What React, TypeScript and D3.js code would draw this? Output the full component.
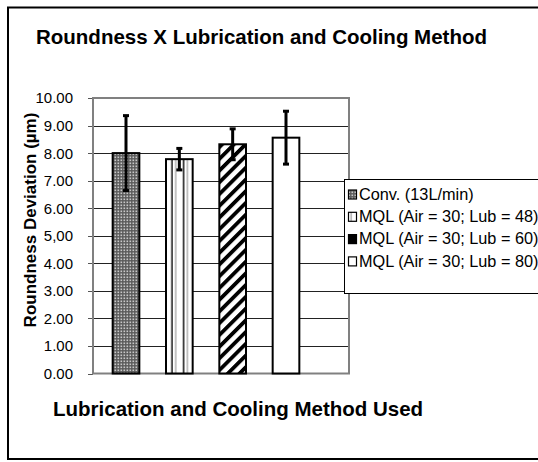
import { useEffect, useRef } from "react";
import * as d3 from "d3";

const methods = [
  "Conv. (13L/min)",
  "MQL (Air = 30; Lub = 48)",
  "MQL (Air = 30; Lub = 60)",
  "MQL (Air = 30; Lub = 80)",
];
const roundness = [8.0, 7.78, 8.32, 8.56];
const errors = [1.36, 0.39, 0.56, 0.96];
const yTicks = [0, 1, 2, 3, 4, 5, 6, 7, 8, 9, 10];
const yTickLabels = ["0.00", "1.00", "2.00", "3.00", "4.00", "5,00", "6.00", "7.00", "8.00", "9.00", "10.00"];
const fills = ["url(#pat-check)", "url(#pat-vert)", "url(#pat-diag)", "#ffffff"];

const App = () => {
  const svgRef = useRef<SVGSVGElement>(null);

  useEffect(() => {
    const w = 538;
    const h = 462;
    const svg = d3.select(svgRef.current).attr("width", w).attr("height", h);
    svg.selectAll("*").remove();
    const font = "Liberation Sans, Arial, sans-serif";

    // patterns
    const defs = svg.append("defs");
    const chk = defs.append("pattern").attr("id", "pat-check").attr("patternUnits", "userSpaceOnUse")
      .attr("width", 3).attr("height", 3);
    chk.append("rect").attr("width", 3).attr("height", 3).attr("fill", "#5a5a5a");
    chk.append("rect").attr("x", 0.5).attr("y", 0.5).attr("width", 1.6).attr("height", 1.6).attr("fill", "#c8c8c8");

    const vert = defs.append("pattern").attr("id", "pat-vert").attr("patternUnits", "userSpaceOnUse")
      .attr("width", 11.7).attr("height", 10).attr("x", 161);
    vert.append("rect").attr("width", 11.7).attr("height", 10).attr("fill", "#fff");
    vert.append("rect").attr("x", 10.3).attr("width", 1.4).attr("height", 10).attr("fill", "#000");
    vert.append("rect").attr("x", 2.5).attr("width", 1).attr("height", 10).attr("fill", "#888");

    const diag = defs.append("pattern").attr("id", "pat-diag").attr("patternUnits", "userSpaceOnUse")
      .attr("width", 8.3).attr("height", 10).attr("patternTransform", "rotate(45)");
    diag.append("rect").attr("width", 8.3).attr("height", 10).attr("fill", "#fff");
    diag.append("rect").attr("width", 3.8).attr("height", 10).attr("fill", "#000");

    // outer frame
    svg.append("rect").attr("x", 8).attr("y", 7.5).attr("width", 600).attr("height", 451.5)
      .attr("fill", "#fff").attr("stroke", "#000").attr("stroke-width", 2);

    const plot = { left: 93, right: 349, top: 98, bottom: 373.5 };
    const y = d3.scaleLinear().domain([0, 10]).range([plot.bottom, plot.top]);
    const x = d3.scaleBand().domain(methods).range([86, 326]).padding(0.5);

    // gridlines
    svg.append("g").selectAll("line").data(yTicks.slice(1, -1)).join("line")
      .attr("x1", plot.left).attr("x2", plot.right)
      .attr("y1", (d) => Math.round(y(d)) + 0.5).attr("y2", (d) => Math.round(y(d)) + 0.5)
      .attr("stroke", "#222").attr("stroke-width", 1);

    // y axis ticks
    svg.append("g").selectAll("line").data(yTicks).join("line")
      .attr("x1", plot.left - 5).attr("x2", plot.left)
      .attr("y1", (d) => Math.round(y(d)) + 0.5).attr("y2", (d) => Math.round(y(d)) + 0.5)
      .attr("stroke", "#555").attr("stroke-width", 1);

    svg.append("g").selectAll("text").data(yTicks).join("text")
      .attr("x", 73).attr("y", (d) => y(d)).attr("dy", "0.36em")
      .attr("text-anchor", "end").attr("font-family", font).attr("font-size", 15)
      .text((d, i) => yTickLabels[i]);

    // plot border
    svg.append("rect").attr("x", plot.left).attr("y", plot.top)
      .attr("width", plot.right - plot.left).attr("height", plot.bottom - plot.top)
      .attr("fill", "none").attr("stroke", "#808080").attr("stroke-width", 2);

    // bars
    svg.append("g").selectAll("rect").data(roundness).join("rect")
      .attr("x", (d, i) => x(methods[i])!)
      .attr("y", (d) => y(d))
      .attr("width", x.bandwidth())
      .attr("height", (d) => y(0) - y(d))
      .attr("fill", (d, i) => fills[i])
      .attr("stroke", "#000").attr("stroke-width", 2);

    // error bars
    const eb = svg.append("g").selectAll("g").data(roundness).join("g");
    eb.append("line")
      .attr("x1", (d, i) => x(methods[i])! + x.bandwidth() / 2)
      .attr("x2", (d, i) => x(methods[i])! + x.bandwidth() / 2)
      .attr("y1", (d, i) => y(d + errors[i]))
      .attr("y2", (d, i) => y(d - errors[i]))
      .attr("stroke", "#000").attr("stroke-width", 3);
    [1, -1].forEach((s) => {
      eb.append("line")
        .attr("x1", (d, i) => x(methods[i])! + x.bandwidth() / 2 - 3)
        .attr("x2", (d, i) => x(methods[i])! + x.bandwidth() / 2 + 3)
        .attr("y1", (d, i) => y(d + s * errors[i]))
        .attr("y2", (d, i) => y(d + s * errors[i]))
        .attr("stroke", "#000").attr("stroke-width", 3);
    });

    // legend
    const lg = svg.append("g");
    lg.append("rect").attr("x", 344.5).attr("y", 179.5).attr("width", 300).attr("height", 114)
      .attr("fill", "#fff").attr("stroke", "#000").attr("stroke-width", 1);
    const items = lg.selectAll("g.item").data(methods).join("g").attr("class", "item")
      .attr("transform", (d, i) => `translate(0, ${194 + i * 22.3})`);
    items.append("rect").attr("x", 348.5).attr("y", -4).attr("width", 8).attr("height", 9)
      .attr("fill", (d, i) => (i === 2 ? "#000" : fills[i])).attr("stroke", "#000").attr("stroke-width", 1.2);
    items.append("text").attr("x", 359).attr("dy", "0.36em")
      .attr("font-family", font).attr("font-size", 16.3).text((d) => d);

    // titles
    svg.append("text").attr("x", 36).attr("y", 44)
      .attr("font-family", font).attr("font-size", 20.5).attr("font-weight", "bold")
      .text("Roundness X Lubrication and Cooling Method");
    svg.append("text").attr("x", 53).attr("y", 416)
      .attr("font-family", font).attr("font-size", 20.5).attr("font-weight", "bold")
      .text("Lubrication and Cooling Method Used");
    svg.append("text").attr("transform", "translate(36, 220) rotate(-90)")
      .attr("text-anchor", "middle")
      .attr("font-family", font).attr("font-size", 17).attr("font-weight", "bold")
      .text("Roundness Deviation (µm)");
  }, []);

  return (
    <div style={{ position: "absolute", left: 0, top: 0 }}>
      <svg ref={svgRef} style={{ display: "block" }} />
    </div>
  );
};

export default App;
